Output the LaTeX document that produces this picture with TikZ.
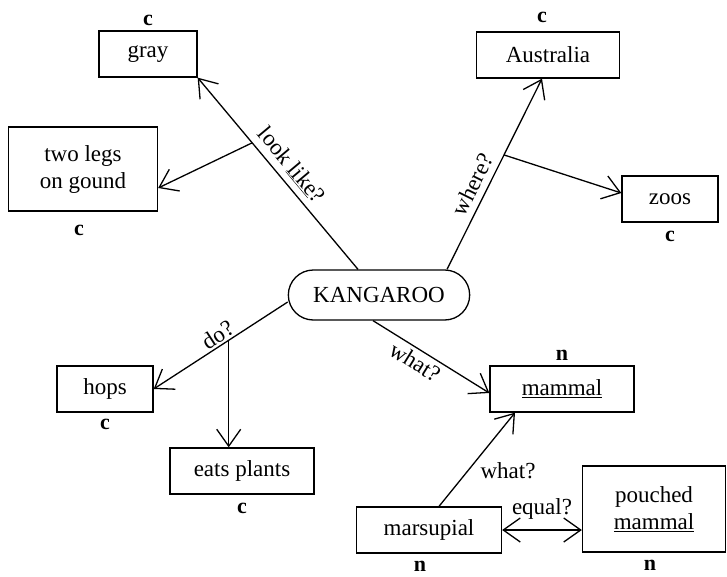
\documentclass[tikz,border=0pt]{standalone}
\usepackage{fontspec}
\setmainfont{Liberation Serif}
\usetikzlibrary{arrows.meta,shapes.misc,positioning}

\begin{document}
\begin{tikzpicture}[x=1pt,y=-1pt,>={Straight Barb[length=17pt,width=24pt]},line width=1.3pt,font=\fontsize{23}{27}\selectfont]

	\tikzstyle{rect}=[
		rectangle,
		draw=black,
		fill=white,
		minimum height=46pt,
		inner sep=2pt,
		align=center
	]
	\tikzstyle{oval}=[rounded rectangle, draw=black, fill=white, minimum width=188pt, minimum height=50pt]
	\tikzstyle{tag}=[font=\fontsize{22}{26}\selectfont\bfseries, inner sep=1pt, label distance=7pt]
	\tikzstyle{rel}=[inner sep=2pt]
	\tikzstyle{post}=[->]

	\useasboundingbox[fill=white] (0,0) rectangle (727,576);

	\node [oval] (Kan) at (379,295) {KANGAROO};

	\node [rect, minimum width=98pt, label={[tag, label distance=3pt]above:c}] (Gray) at (148,54) {gray};
	\node [rect, minimum width=149pt, minimum height=84pt, label={[tag, label distance=12pt, xshift=-4pt]below:c}] (Legs) at (83,169) {two legs\\on gound};

	\node [rect, minimum width=143pt, label={[tag, label distance=7pt, xshift=-6pt]above:c}] (Aus) at (548,55) {Australia};
	\node [rect, minimum width=96pt, label={[tag]below:c}] (Zoos) at (670,199) {zoos};

	\node [rect, minimum width=96pt, label={[tag, label distance=5pt]below:c}] (Hops) at (105,389) {hops};
	\node [rect, minimum width=144pt, label={[tag]below:c}] (Eats) at (242,471) {eats plants};

	\node [rect, minimum width=144pt, label={[tag, label distance=3pt]above:n}] (Mam) at (562,389) {\underline{mammal}};
	\node [rect, minimum width=145pt, label={[tag, label distance=6pt, xshift=-9pt]below:n}] (Mars) at (429,530) {marsupial};
	\node [rect, minimum width=143pt, minimum height=86pt, label={[tag, label distance=6pt, xshift=-4pt]below:n}] (Pouch) at (654,509) {pouched\\\underline{mammal}};

	% look like?
	\draw[post] ([xshift=-21pt]Kan.north) -- node[rel, sloped, above=4pt, pos=0.49] {look \underline{like}?} coordinate[pos=0.66] (LkB) (Gray.south east);
	\draw[post] (LkB) -- ([yshift=-19pt]Legs.east);

	% where?
	\draw[post] ([xshift=68pt]Kan.north) -- node[rel, sloped, above=4pt, pos=0.41] {where?} coordinate[pos=0.6] (WhB) ([xshift=-6pt]Aus.south);
	\draw[post] (WhB) -- ([yshift=6pt]Zoos.west);

	% do?
	\draw[post] ([yshift=-7pt]Kan.west) -- node[rel, sloped, above, pos=0.48] {do?} coordinate[pos=0.44] (DoB) (Hops.east);
	\draw[post] (DoB) -- (DoB |- Eats.north);

	% what?
	\draw[post] ([xshift=-6pt]Kan.south) -- node[rel, sloped, below=2pt, pos=0.42] {what?} ([yshift=-4pt]Mam.west);
	\draw[post] ([xshift=10pt]Mars.north) -- node[rel, pos=0.38, right=10pt] {what?} ([xshift=-47pt]Mam.south);

	\draw[<->] (Mars.east) -- node[rel, above=8pt] {equal?} (Mars.east -| Pouch.west);

\end{tikzpicture}
\end{document}
